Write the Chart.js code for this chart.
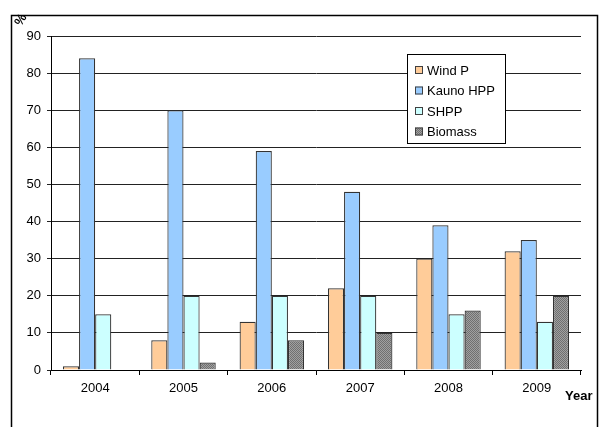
<!DOCTYPE html>
<html><head><meta charset="utf-8">
<script src="https://cdn.jsdelivr.net/npm/chart.js@4"></script>
<style>html,body{margin:0;padding:0;background:#fff;}#wrap{position:relative;width:600px;height:427px;}</style>
</head><body><div id="wrap"><canvas id="c" width="600" height="427"></canvas></div>
<script>
const categories = ['2004','2005','2006','2007','2008','2009'];
const windP = [1, 8, 13, 22, 30, 32];
const kaunoHPP = [84, 70, 59, 48, 39, 35];
const shpp = [15, 20, 20, 20, 15, 13];
const biomass = [0, 2, 8, 10, 16, 20];
const yTicks = [0,10,20,30,40,50,60,70,80,90];

function makePattern(){
  const p = document.createElement('canvas'); p.width = 2; p.height = 2;
  const g = p.getContext('2d');
  g.fillStyle = '#a0a0a0'; g.fillRect(0,0,2,2);
  g.fillStyle = '#707070'; g.fillRect(0,0,1,1); g.fillRect(1,1,1,1);
  return g.createPattern(p,'repeat');
}
const ctx0 = document.getElementById('c').getContext('2d');
const bioFill = makePattern();
const FONT = "'Liberation Sans', Arial, sans-serif";

const frame = {
  id:'frame',
  beforeDraw(chart){
    const c = chart.ctx; c.save();
    c.fillStyle='#fff'; c.fillRect(0,0,600,427);
    c.strokeStyle='#000'; c.lineWidth=1.5;
    c.beginPath(); c.moveTo(11.5,440); c.lineTo(11.5,15.5); c.lineTo(597.5,15.5); c.lineTo(597.5,440); c.stroke();
    c.restore();
  },
  afterDraw(chart){
    const c = chart.ctx; c.save();
    c.fillStyle='#000'; c.font = "bold 13px "+FONT;
    c.translate(21,20); c.rotate(-Math.PI/3); c.textAlign='center'; c.textBaseline='middle'; c.fillText('%',0,0);
    c.setTransform(1,0,0,1,0,0);
    c.font = "bold 13px "+FONT; c.textAlign='left'; c.textBaseline='middle';
    c.fillText('Year',565,396);
    const lx=407.5, ly=54.5, lw=98, lh=89;
    c.fillStyle='#fff'; c.fillRect(lx,ly,lw,lh);
    c.strokeStyle='#000'; c.lineWidth=1; c.strokeRect(lx,ly,lw,lh);
    c.font = "13px "+FONT;
    chart.data.datasets.forEach((ds,i)=>{
      const y = 70 + i*20.5;
      c.fillStyle = ds.backgroundColor; c.fillRect(415,y-4,8,8);
      c.strokeStyle='#404040'; c.strokeRect(415.5,y-3.5,7,7);
      c.fillStyle='#000'; c.fillText(ds.label,427,y+1);
    });
    c.restore();
  }
};

new Chart(ctx0,{
  type:'bar',
  data:{labels:categories,datasets:[
    {label:'Wind P',data:windP,backgroundColor:'#FFCC99'},
    {label:'Kauno HPP',data:kaunoHPP,backgroundColor:'#99CCFF'},
    {label:'SHPP',data:shpp,backgroundColor:'#CCFFFF'},
    {label:'Biomass',data:biomass,backgroundColor:bioFill}
  ].map(d=>Object.assign(d,{borderColor:'#333333',borderWidth:1.2,categoryPercentage:0.73,barPercentage:1}))},
  options:{
    responsive:false,animation:false,
    layout:{padding:{left:0,top:36,right:19,bottom:0}},
    plugins:{legend:{display:false},tooltip:{enabled:false}},
    scales:{
      x:{
        afterFit(s){s.height=57;},
        grid:{offset:true,drawOnChartArea:false,drawTicks:true,tickLength:5,color:'#000'},
        border:{color:'#000',width:1},
        ticks:{color:'#000',font:{family:FONT,size:13},padding:6,maxRotation:0}
      },
      y:{
        min:0,max:90,
        afterFit(s){s.width=51;},
        afterBuildTicks(s){s.ticks=yTicks.map(v=>({value:v}));},
        grid:{color:'#222',lineWidth:1,tickLength:4},
        border:{color:'#000',width:1},
        ticks:{color:'#000',font:{family:FONT,size:13},padding:6}
      }
    }
  },
  plugins:[frame]
});
</script></body></html>
